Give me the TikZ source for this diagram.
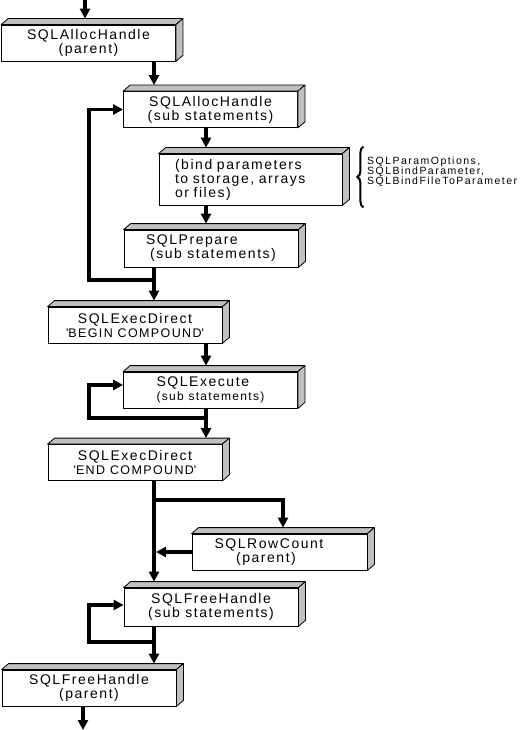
\documentclass[tikz,border=0pt]{standalone}
\usepackage{fontspec}
\setmainfont{Liberation Sans}[LetterSpace=11]
\usetikzlibrary{arrows.meta,decorations.pathreplacing}
\definecolor{facegray}{RGB}{192,192,192}
\newcommand{\qt}{\textquotesingle}
\begin{document}
\begin{tikzpicture}[x=1pt,y=-1pt,
    box/.style={draw, line width=0.8pt, fill=white, minimum width=174pt, minimum height=36pt, inner sep=0pt, align=center, font=\fontsize{14}{14}\selectfont},
    face/.style={draw, line width=0.8pt, fill=facegray, line join=round},
    flow/.style={line width=3.4pt, -{Triangle[width=10pt,length=10pt]}}]
    \useasboundingbox (0,0) rectangle (523,730);
    \node[box] (alloc) at (88.5,43) {SQLAllocHandle\\(parent)};
    \node[box] (allocsub) at (210.5,109.5) {SQLAllocHandle\\(sub statements)};
    \node[box, minimum width=183pt, minimum height=51pt, text width=151pt, inner xsep=16pt, align=left] (bind) at (250.5,179.5) {(bind parameters\\to storage, arrays\\or files)};
    \node[box, minimum height=37pt, align=left] (prep) at (211,248.5) {SQLPrepare\\\hspace*{4pt}(sub statements)};
    \node[box] (begin) at (135,325) {SQLExecDirect\\{\fontsize{12.5}{13}\selectfont\qt BEGIN COMPOUND\qt}};
    \node[box, align=left] (exec) at (210.5,390) {SQLExecute\\{\fontsize{12}{13}\selectfont(sub statements)}};
    \node[box] (finish) at (135,462.5) {SQLExecDirect\\{\fontsize{12.5}{13}\selectfont\qt END COMPOUND\qt}};
    \node[box, minimum width=175pt] (rowcount) at (279.5,552) {SQLRowCount\hspace*{21pt}\\(parent)\hspace*{27pt}};
    \node[box, minimum height=38pt] (freesub) at (211,607) {SQLFreeHandle\\(sub statements)};
    \node[box] (free) at (89,688) {SQLFreeHandle\\(parent)};
    \foreach \b in {alloc,allocsub,bind,prep,begin,exec,finish,rowcount,freesub,free} {
        \draw[face] (\b.north west) -- ++(7,-6) -- ([shift={(7,-6)}]\b.north east) -- (\b.north east) -- cycle;
        \draw[face] (\b.north east) -- ++(7,-6) -- ([shift={(7,-6)}]\b.south east) -- (\b.south east) -- cycle;
    }
    \coordinate (entry) at (85,0);
    \coordinate (exit) at (83,730);
    \coordinate (main) at (154,0);
    \coordinate (side) at (206,0);
    \coordinate (back) at (89,0);
    \coordinate (j1) at (154,280);
    \coordinate (j2) at (206,418);
    \coordinate (j3) at (154,500);
    \coordinate (j4) at (154,642);
    \draw[flow] (entry) -- ([yshift=6pt]entry |- alloc.north);
    \draw[flow] (main |- alloc.south) -- ([yshift=6pt]main |- allocsub.north);
    \draw[flow] (side |- allocsub.south) -- ([yshift=6pt]side |- bind.north);
    \draw[flow] (side |- bind.south) -- ([yshift=6pt]side |- prep.north);
    \draw[flow] (main |- prep.south) -- ([yshift=6pt]main |- begin.north);
    \draw[flow] (j1) -- (back |- j1) |- (allocsub.west);
    \draw[flow] (side |- begin.south) -- ([yshift=6pt]side |- exec.north);
    \draw[flow] (side |- exec.south) -- ([yshift=6pt]side |- finish.north);
    \draw[flow] (j2) -- (back |- j2) |- ([yshift=5pt]exec.west);
    \draw[flow] (main |- finish.south) -- ([yshift=6pt]main |- freesub.north);
    \draw[flow] (j3) -| ([xshift=3.5pt,yshift=6pt]rowcount.north);
    \draw[flow] (rowcount.west) -- ([xshift=2pt]main |- rowcount.west);
    \draw[flow] (main |- freesub.south) -- ([yshift=6pt]main |- free.north);
    \draw[flow] (j4) -- (back |- j4) |- ([yshift=2pt]freesub.west);
    \draw[flow] (exit |- free.south) -- (exit);
    \draw[line width=2pt, decorate, decoration={brace, amplitude=6pt}] ([shift={(21,2)}]bind.south east) -- ([shift={(21,-7)}]bind.north east);
    \node[anchor=west, align=left, inner sep=0pt, font=\fontsize{10.5}{10}\selectfont\addfontfeatures{LetterSpace=14}] (params) at (367,172) {SQLParamOptions,\\SQLBindParameter,\\SQLBindFileToParameter};
\end{tikzpicture}
\end{document}
